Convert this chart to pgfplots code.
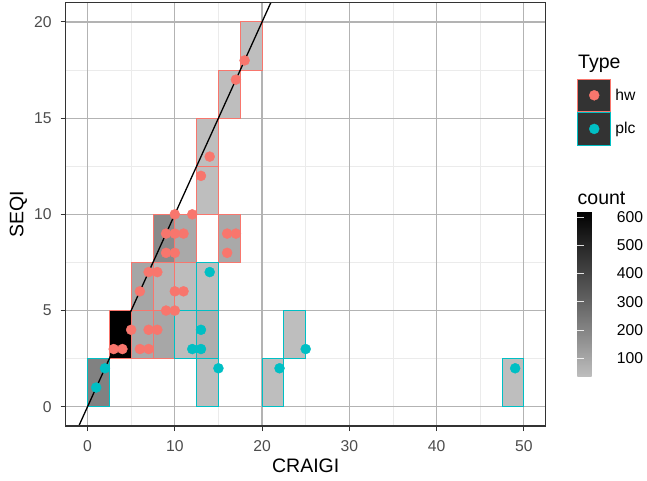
\documentclass[border=0pt]{standalone}
\usepackage{pgfplots}
\usepackage{pgfplotstable}
\pgfplotsset{compat=1.18}
\usepackage{fontspec}
\setmainfont{Liberation Sans}
\definecolor{hwcol}{HTML}{F8766D}
\definecolor{plccol}{HTML}{00BFC4}
\definecolor{keybg}{HTML}{333333}
\definecolor{majgrid}{HTML}{B3B3B3}
\definecolor{mingrid}{HTML}{EBEBEB}
\definecolor{tickcol}{HTML}{333333}
\definecolor{ticklab}{HTML}{4D4D4D}
\pgfdeclareplotmark{tile}{\pgfpathrectangle{\pgfpoint{-10.909pt}{-24.05pt}}{\pgfpoint{21.818pt}{48.1pt}}\pgfusepathqfillstroke}

% 2-D bins (centre x, centre y, count)
\pgfplotstableread{
xc yc count
3.75 3.75 619
6.25 3.75 95
8.75 3.75 100
6.25 6.25 105
8.75 6.25 60
11.25 6.25 38
8.75 8.75 185
11.25 8.75 95
16.25 8.75 95
13.75 11.25 35
13.75 13.75 35
16.25 16.25 35
18.75 18.75 35
}\hwtiles
\pgfplotstableread{
xc yc count
1.25 1.25 212
11.25 3.75 38
13.75 3.75 80
13.75 1.25 35
13.75 6.25 35
21.25 1.25 35
23.75 3.75 35
48.75 1.25 35
}\plctiles
% points
\pgfplotstableread{
x y
3 3
4 3
5 4
6 3
7 3
7 4
8 4
9 5
10 5
6 6
10 6
11 6
7 7
8 7
9 8
10 8
9 9
10 9
11 9
16 8
16 9
17 9
10 10
12 10
13 12
14 13
17 17
18 18
}\hwpts
\pgfplotstableread{
x y
1 1
2 2
12 3
13 3
13 4
15 2
14 7
22 2
25 3
49 2
}\plcpts

\pgfplotsset{common/.style={scale only axis, width=480pt, height=423.3pt,
  at={(65.7pt,54pt)}, anchor=south west,
  xmin=-2.5, xmax=52.5, ymin=-1, ymax=21}}

\begin{document}
\begin{tikzpicture}
\useasboundingbox (0,0) rectangle (647pt,480pt);
\fill[white] (0,0) rectangle (647pt,480pt);
% minor grid
\begin{axis}[common,
  xtick={5,15,25,35,45}, ytick={2.5,7.5,12.5,17.5},
  grid=major, major grid style={draw=mingrid, line width=0.7pt},
  xticklabels={}, yticklabels={}, tick style={draw=none},
  axis line style={draw=none}]
\end{axis}
% tiles, major grid, axes, colorbar
\begin{axis}[common, axis on top,
  xtick={0,10,...,50}, ytick={0,5,...,20},
  xtick pos=bottom, ytick pos=left,
  grid=major, major grid style={draw=majgrid, line width=1.2pt},
  tick align=outside, major tick length=5pt,
  tick style={draw=tickcol, line width=1.1pt},
  axis line style={draw=tickcol, line width=1.1pt},
  ticklabel style={font=\fontsize{15.7}{18}\selectfont, text=ticklab},
  xticklabel style={yshift=-6pt},
  yticklabel style={xshift=-5.5pt},
  /pgf/number format/assume math mode=true,
  xlabel={CRAIGI}, ylabel={SEQI},
  label style={font=\fontsize{19.5}{23}\selectfont},
  xlabel style={at={(axis description cs:0.5,-0.1103)}, anchor=base},
  ylabel style={at={(axis description cs:-0.0883,0.5)}, anchor=base},
  colormap={greyblack}{rgb255=(190,190,190) rgb255=(139,139,139) rgb255=(91,91,91) rgb255=(47,47,47) rgb255=(0,0,0)},
  point meta min=35, point meta max=619,
  colorbar,
  colorbar shift/.style={},
  colorbar style={
    at={(parent axis.south east)}, anchor=south west,
    xshift=31.6pt, yshift=49.3pt,
    scale only axis, width=33.4pt, height=165pt,
    ytick={100,200,...,600},
    ytick pos=both, yticklabel pos=right,
    tick align=inside, major tick length=6.6pt,
    tick style={draw=white, line width=1.1pt, opacity=0.85},
    axis line style={draw=none},
    /pgf/number format/assume math mode=true,
    yticklabel style={font=\fontsize{15.7}{18}\selectfont, text=black, xshift=2.7pt},
  },
]
\addplot[scatter, only marks, mark=tile, point meta=explicit,
  scatter/use mapped color={draw=hwcol, fill=mapped color},
  mark options={line width=0.9pt}] table[x=xc, y=yc, meta=count] {\hwtiles};
\addplot[scatter, only marks, mark=tile, point meta=explicit,
  scatter/use mapped color={draw=plccol, fill=mapped color},
  mark options={line width=0.9pt}] table[x=xc, y=yc, meta=count] {\plctiles};
\end{axis}
% points, line, legend
\begin{axis}[common, hide axis, clip=false,
  legend style={at={(1.0658,0.8214)}, anchor=north west, draw=none, fill=none,
    inner sep=0pt, row sep=0pt, column sep=4.5pt,
    nodes={inner sep=0pt},
    font=\fontsize{15.7}{18}\selectfont},
  legend cell align=left]
\addplot[only marks, mark=*, mark size=5pt, color=hwcol,
  legend image code/.code={\draw[fill=keybg, draw=hwcol, line width=0.8pt] (0pt,-16.4pt) rectangle (32.7pt,16.4pt); \fill[hwcol] (16.35pt,0pt) circle (5pt);}]
  table[x=x, y=y] {\hwpts};
\addlegendentry{hw}
\addplot[only marks, mark=*, mark size=5pt, color=plccol,
  legend image code/.code={\draw[fill=keybg, draw=plccol, line width=0.8pt] (0pt,-16.4pt) rectangle (32.7pt,16.4pt); \fill[plccol] (16.35pt,0pt) circle (5pt);}]
  table[x=x, y=y] {\plcpts};
\addlegendentry{plc}
\addplot[black, line width=1.3pt, forget plot] coordinates {(-1,-1) (21,21)};
\end{axis}
\draw[draw=tickcol, line width=1.5pt] (65.7pt,54pt) rectangle (545.7pt,477.3pt);
\node[anchor=base west, inner sep=0pt, font=\fontsize{19.5}{23}\selectfont] at (578pt,411.7pt) {Type};
\node[anchor=base west, inner sep=0pt, font=\fontsize{19.5}{23}\selectfont] at (577.5pt,276pt) {count};
\end{tikzpicture}
\end{document}
